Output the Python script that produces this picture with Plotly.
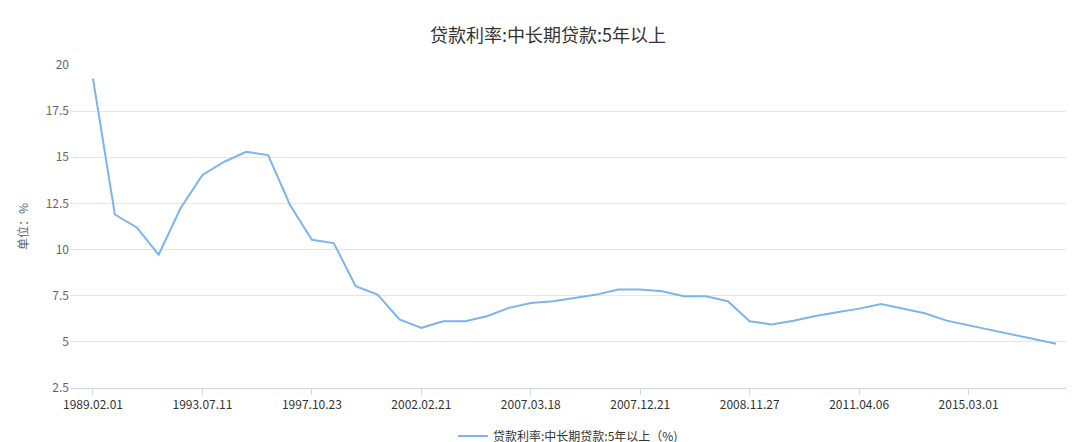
import plotly.graph_objects as go

tick_labels = ["1989.02.01", "1993.07.11", "1997.10.23", "2002.02.21", "2007.03.18",
               "2007.12.21", "2008.11.27", "2011.04.06", "2015.03.01"]
rates = [19.26, 11.9, 11.2, 9.72, 12.24, 14.04, 14.76, 15.3, 15.12, 12.42,
         10.53, 10.35, 8.01, 7.56, 6.21, 5.76, 6.12, 6.12, 6.39, 6.84,
         7.11, 7.2, 7.38, 7.56, 7.83, 7.83, 7.74, 7.47, 7.47, 7.2,
         6.12, 5.94, 6.14, 6.4, 6.6, 6.8, 7.05, 6.8, 6.55, 6.15,
         5.9, 5.65, 5.4, 5.15, 4.9]
x_idx = list(range(len(rates)))

fig = go.Figure(go.Scatter(x=x_idx, y=rates, mode="lines",
                           line=dict(color="#7cb5ec", width=2),
                           name="贷款利率:中长期贷款:5年以上（%)"))
fig.update_layout(
    width=1080, height=442, plot_bgcolor="white", paper_bgcolor="white",
    margin=dict(l=62, r=22, t=57, b=62, autoexpand=False),
    font=dict(family="Noto Sans CJK SC", color="#666", size=12),
    title=dict(text="贷款利率:中长期贷款:5年以上", x=0.5, y=1 - 28 / 442, yanchor="middle",
               xanchor="center", font=dict(size=18, color="#333")),
    showlegend=True,
    legend=dict(orientation="h", x=0.5, xanchor="center", y=-48 / 323, yanchor="middle",
                font=dict(size=12, color="#333")),
    xaxis=dict(range=[-1.05, 44.45], tickvals=[i * 5 for i in range(len(tick_labels))],
               ticktext=tick_labels, showgrid=False, showline=True, linecolor="#ccd6eb",
               ticks="outside", tickcolor="#ccd6eb", ticklen=6, zeroline=False,
               automargin=False, tickfont=dict(color="#333")),
    yaxis=dict(range=[2.5, 20], tickvals=[2.5, 5, 7.5, 10, 12.5, 15, 17.5, 20],
               ticktext=["2.5", "5", "7.5", "10", "12.5", "15", "17.5", "20"],
               gridcolor="#e6e6e6", zeroline=False, automargin=False,
               title=dict(text="单位：%", font=dict(size=12, color="#666"), standoff=14)),
)
fig.write_html("out.html")
